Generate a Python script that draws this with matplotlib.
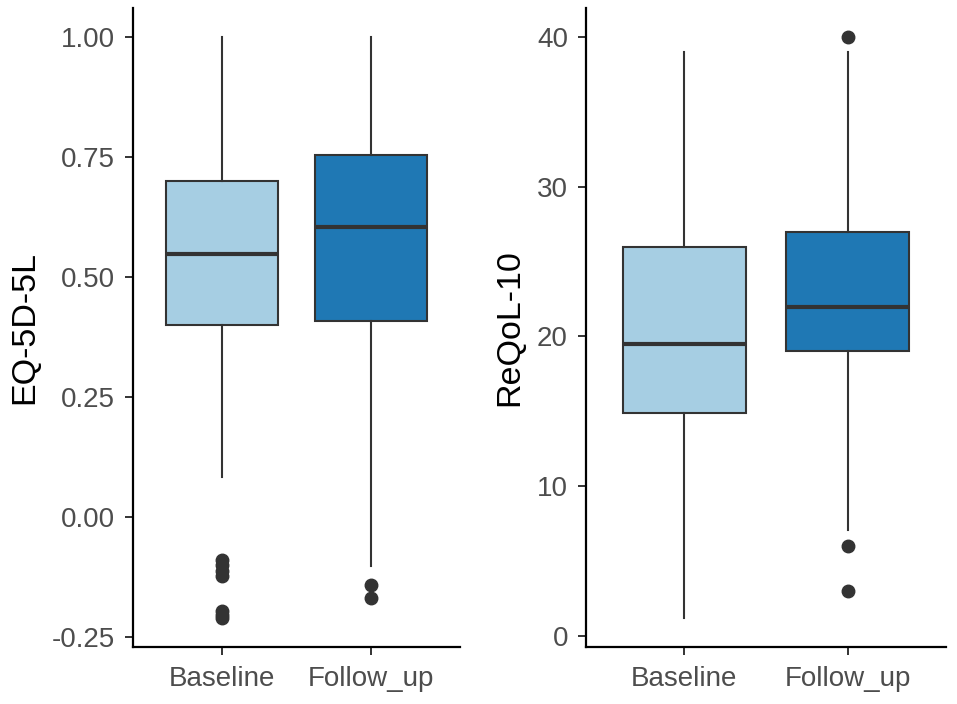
import matplotlib
matplotlib.use("Agg")
import matplotlib.pyplot as plt

# groups and box statistics
groups = ["Baseline", "Follow_up"]
fills = ["#A6CEE3", "#1F78B4"]

eq_q1 = [0.40, 0.408]
eq_med = [0.548, 0.605]
eq_q3 = [0.70, 0.755]
eq_lo = [0.083, -0.102]
eq_hi = [1.00, 1.00]
eq_out = [[-0.09, -0.10, -0.112, -0.122, -0.196, -0.203, -0.21],
          [-0.142, -0.169]]

rq_q1 = [14.9, 19.0]
rq_med = [19.5, 22.0]
rq_q3 = [26.0, 27.0]
rq_lo = [1.2, 7.1]
rq_hi = [39.0, 39.0]
rq_out = [[], [40, 6, 3]]

plt.rcParams['font.family'] = ['Liberation Sans', 'DejaVu Sans']

fig = plt.figure(figsize=(9.57, 7.04), dpi=100)
ax1 = fig.add_axes([0.139, 0.081, 0.3417, 0.9076])
ax2 = fig.add_axes([0.6123, 0.081, 0.3762, 0.9076])


def draw_panel(ax, q1, med, q3, lo, hi, out, ylabel, yticks, yticklabels, label_x):
    stats = []
    for i in range(len(groups)):
        stats.append(dict(label=groups[i], q1=q1[i], med=med[i], q3=q3[i],
                          whislo=lo[i], whishi=hi[i], fliers=out[i]))
    bp = ax.bxp(stats, positions=[1, 2], widths=0.75, patch_artist=True,
                showcaps=False,
                boxprops=dict(edgecolor="#333333", linewidth=1.5),
                whiskerprops=dict(color="#333333", linewidth=1.5),
                medianprops=dict(color="#333333", linewidth=3),
                flierprops=dict(marker="o", markersize=9, markerfacecolor="#333333",
                                markeredgecolor="#333333", linestyle="none"))
    for patch, c in zip(bp["boxes"], fills):
        patch.set_facecolor(c)

    allvals = lo + hi + [v for o in out for v in o]
    vmin, vmax = min(allvals), max(allvals)
    pad = (vmax - vmin) * 0.05
    ax.set_ylim(vmin - pad, vmax + pad)
    ax.set_xlim(0.4, 2.6)
    ax.set_yticks(yticks)
    ax.set_yticklabels(yticklabels)
    ax.set_xticks([1, 2])
    ax.set_xticklabels(groups)

    for s in ["top", "right"]:
        ax.spines[s].set_visible(False)
    for s in ["left", "bottom"]:
        ax.spines[s].set_linewidth(1.6)
        ax.spines[s].set_color("black")
    ax.tick_params(axis="both", length=6, width=1.4, color="#333333",
                   labelsize=20, labelcolor="#4D4D4D")
    ax.tick_params(axis="y", pad=7)
    ax.tick_params(axis="x", pad=8)
    ax.set_ylabel(ylabel, fontsize=24.5, color="black")
    ax.yaxis.set_label_coords(label_x, 0.5)


draw_panel(ax1, eq_q1, eq_med, eq_q3, eq_lo, eq_hi, eq_out, "EQ-5D-5L",
           [-0.25, 0, 0.25, 0.5, 0.75, 1.0],
           ["-0.25", "0.00", "0.25", "0.50", "0.75", "1.00"], -0.284)
draw_panel(ax2, rq_q1, rq_med, rq_q3, rq_lo, rq_hi, rq_out, "ReQoL-10",
           [0, 10, 20, 30, 40], ["0", "10", "20", "30", "40"], -0.169)

fig.savefig("out.png", dpi=100)
